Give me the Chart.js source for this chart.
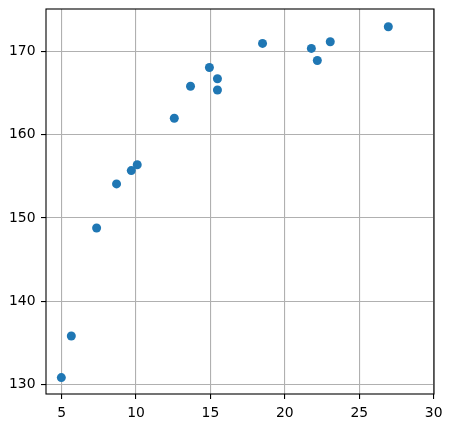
<!DOCTYPE html>
<html>
<head>
<meta charset="utf-8">
<script src="https://cdn.jsdelivr.net/npm/chart.js@4"></script>
<style>
  html, body { margin: 0; padding: 0; background: #fff; }
  #wrap { width: 452px; height: 428px; }
</style>
</head>
<body>
<div id="wrap"><canvas id="myChart" width="452" height="428"></canvas></div>
<script>
// values
const xValues = [4.98, 5.65, 7.35, 8.69, 9.68, 10.08, 12.57, 13.66, 14.93, 15.47, 15.47, 18.5, 21.78, 22.18, 23.05, 26.95];
const yValues = [130.8, 135.8, 148.8, 154.1, 155.7, 156.4, 162.0, 165.85, 168.1, 166.75, 165.4, 171.0, 170.4, 168.95, 171.2, 173.0];
const xTicks = [5, 10, 15, 20, 25, 30];
const yTicks = [130, 140, 150, 160, 170];

const points = xValues.map((x, i) => ({ x: x, y: yValues[i] }));

// black frame round the plot area, like matplotlib's spines
const frame = {
  id: "frame",
  afterDraw(chart) {
    const { ctx, chartArea: a } = chart;
    ctx.save();
    ctx.strokeStyle = "#000";
    ctx.lineWidth = 1.1;
    ctx.strokeRect(a.left, a.top, a.right - a.left, a.bottom - a.top);
    ctx.restore();
  },
};

const tickFont = { family: "'DejaVu Sans', sans-serif", size: 13.9 };
const grid = { color: "#b0b0b0", lineWidth: 1.1, tickColor: "#000", tickLength: 5, drawTicks: true };

new Chart(document.getElementById("myChart").getContext("2d"), {
  type: "scatter",
  data: {
    datasets: [
      {
        data: points,
        backgroundColor: "#1f77b4",
        borderWidth: 0,
        pointRadius: 4.5,
        pointHoverRadius: 4.5,
      },
    ],
  },
  options: {
    responsive: false,
    animation: false,
    layout: { padding: { top: 9, right: 18, left: 0, bottom: 0 } },
    plugins: { legend: { display: false }, tooltip: { enabled: false } },
    scales: {
      x: {
        type: "linear",
        min: 3.95,
        max: 30.02,
        grid: grid,
        border: { display: false },
        ticks: { color: "#000", font: tickFont, padding: 6, maxRotation: 0 },
        afterBuildTicks: (s) => { s.ticks = xTicks.map((v) => ({ value: v })); },
        afterFit: (s) => { s.height = 34; s.paddingLeft = 0; s.paddingRight = 0; },
      },
      y: {
        type: "linear",
        min: 128.83,
        max: 175.14,
        grid: grid,
        border: { display: false },
        ticks: { color: "#000", font: tickFont, padding: 5.5 },
        afterBuildTicks: (s) => { s.ticks = yTicks.map((v) => ({ value: v })); },
        afterFit: (s) => { s.width = 46; s.paddingTop = 0; s.paddingBottom = 0; },
      },
    },
  },
  plugins: [frame],
});
</script>
</body>
</html>
